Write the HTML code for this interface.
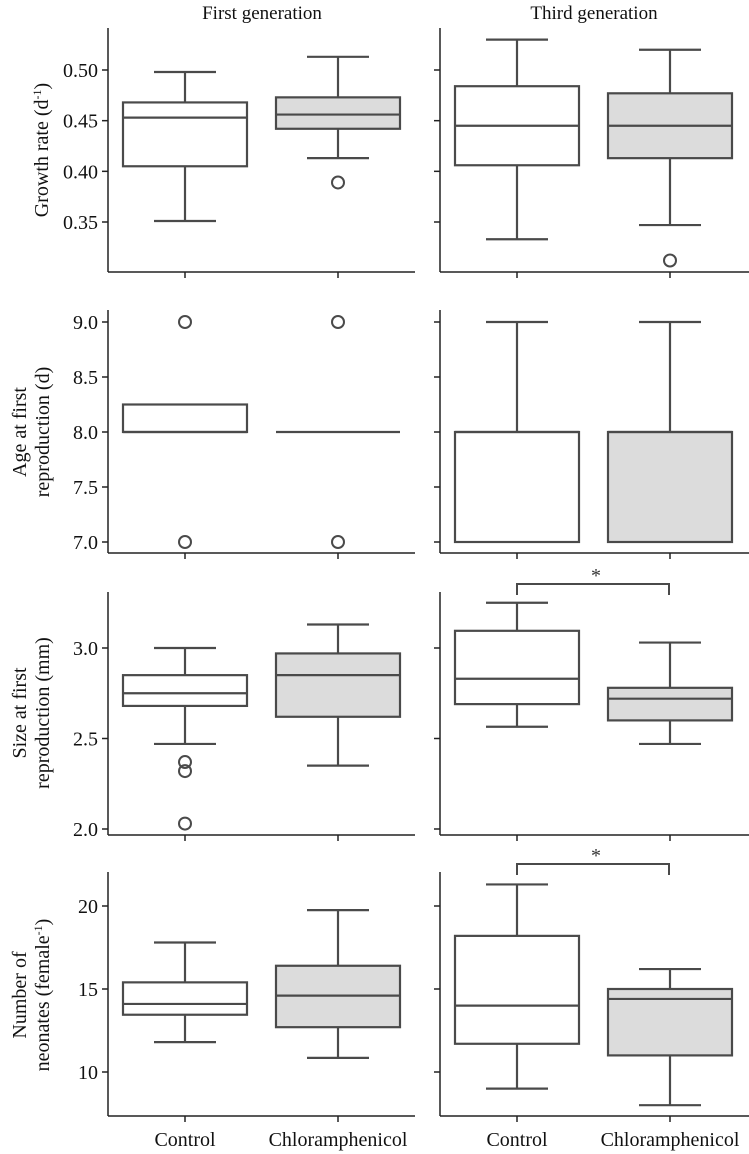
<!DOCTYPE html>
<html><head><meta charset="utf-8">
<style>
html,body{margin:0;padding:0;background:#fff;}
svg{display:block;}
svg text{font-family:"Liberation Serif","DejaVu Serif",serif;}
</style></head>
<body>
<svg id="chart" width="749" height="1154" viewBox="0 0 749 1154" xmlns="http://www.w3.org/2000/svg" font-family="Liberation Serif, DejaVu Serif, serif">
<text x="262" y="19" font-size="19" text-anchor="middle" fill="#111">First generation</text>
<text x="594" y="19" font-size="19" text-anchor="middle" fill="#111">Third generation</text>
<g transform="translate(48,150) rotate(-90)"><text font-size="20" text-anchor="middle" fill="#111">Growth rate (d<tspan font-size="12" dy="-7">-1</tspan><tspan dy="7">)</tspan></text></g>
<g transform="translate(0,432) rotate(-90)"><text font-size="20" text-anchor="middle" fill="#111"><tspan x="0" y="26">Age at first</tspan><tspan x="0" y="49">reproduction (d)</tspan></text></g>
<g transform="translate(0,713) rotate(-90)"><text font-size="20" text-anchor="middle" fill="#111"><tspan x="0" y="26">Size at first</tspan><tspan x="0" y="49">reproduction (mm)</tspan></text></g>
<g transform="translate(0,995) rotate(-90)"><text font-size="20" text-anchor="middle" fill="#111"><tspan x="0" y="26">Number of</tspan><tspan x="0" y="49">neonates (female<tspan font-size="12" dy="-7">-1</tspan><tspan dy="7">)</tspan></tspan></text></g>
<text x="185" y="1146" font-size="20" text-anchor="middle" fill="#111">Control</text>
<text x="338" y="1146" font-size="20" text-anchor="middle" fill="#111">Chloramphenicol</text>
<text x="517" y="1146" font-size="20" text-anchor="middle" fill="#111">Control</text>
<text x="670" y="1146" font-size="20" text-anchor="middle" fill="#111">Chloramphenicol</text>
</svg>
<script>
// Data arrays: [whiskerLow, q1, median, q3, whiskerHigh]
const growthFirst = [[0.351,0.405,0.453,0.468,0.498],[0.413,0.442,0.456,0.473,0.513]];
const growthFirstOut = [[],[0.389]];
const growthThird = [[0.333,0.406,0.445,0.484,0.530],[0.347,0.413,0.445,0.477,0.520]];
const growthThirdOut = [[],[0.312]];
const ageFirst = [[8.0,8.0,8.0,8.25,8.25],[8.0,8.0,8.0,8.0,8.0]];
const ageFirstOut = [[9,7],[9,7]];
const ageThird = [[7,7,8,8,9],[7,7,8,8,9]];
const ageThirdOut = [[],[]];
const sizeFirst = [[2.47,2.68,2.75,2.85,3.0],[2.35,2.62,2.85,2.97,3.13]];
const sizeFirstOut = [[2.37,2.32,2.03],[]];
const sizeThird = [[2.565,2.69,2.83,3.095,3.25],[2.47,2.60,2.72,2.78,3.03]];
const sizeThirdOut = [[],[]];
const neoFirst = [[11.8,13.45,14.1,15.4,17.8],[10.85,12.7,14.6,16.4,19.75]];
const neoFirstOut = [[],[]];
const neoThird = [[9.0,11.7,14.0,18.2,21.3],[8.0,11.0,14.4,15.0,16.2]];
const neoThirdOut = [[],[]];
const growthTicks = [0.35,0.40,0.45,0.50];
const growthTickLabels = ["0.35","0.40","0.45","0.50"];
const ageTicks = [7.0,7.5,8.0,8.5,9.0];
const ageTickLabels = ["7.0","7.5","8.0","8.5","9.0"];
const sizeTicks = [2.0,2.5,3.0];
const sizeTickLabels = ["2.0","2.5","3.0"];
const neoTicks = [10,15,20];
const neoTickLabels = ["10","15","20"];

const NS="http://www.w3.org/2000/svg";
const svg=document.getElementById('chart');
const C="#4a4a4a";
const FF="Liberation Serif, DejaVu Serif, serif";
function mk(tag,attrs,parent){const e=document.createElementNS(NS,tag);for(const k in attrs)e.setAttribute(k,attrs[k]);(parent||svg).appendChild(e);return e;}

const rows=[
 {name:'growth',a:0.35,pa:222,b:0.50,pa2:70,top:28,bot:272,ticks:growthTicks,labels:growthTickLabels,data:[growthFirst,growthThird],out:[growthFirstOut,growthThirdOut]},
 {name:'age',a:7.0,pa:542,b:9.0,pa2:322,top:310,bot:553,ticks:ageTicks,labels:ageTickLabels,data:[ageFirst,ageThird],out:[ageFirstOut,ageThirdOut]},
 {name:'size',a:2.0,pa:829,b:3.0,pa2:648,top:592,bot:835,ticks:sizeTicks,labels:sizeTickLabels,data:[sizeFirst,sizeThird],out:[sizeFirstOut,sizeThirdOut]},
 {name:'neonates',a:10,pa:1072,b:20,pa2:906,top:872,bot:1116,ticks:neoTicks,labels:neoTickLabels,data:[neoFirst,neoThird],out:[neoFirstOut,neoThirdOut]}
];
const cols=[{name:'first',ax:108,right:415,cx:[185,338]},{name:'third',ax:440,right:749,cx:[517,670]}];
const fills=['#ffffff','#dcdcdc'];
const hw=62, cap=31;

rows.forEach((r,ri)=>{
 const y=v=>r.pa+(v-r.a)*(r.pa2-r.pa)/(r.b-r.a);
 cols.forEach((c,ci)=>{
  const g=mk('g',{});
  
  
  const ya=mk('line',{x1:c.ax,y1:r.top,x2:c.ax,y2:r.bot,stroke:'#222','stroke-width':1.5},g);
  
  
  const xa=mk('line',{x1:c.ax,y1:r.bot,x2:c.right,y2:r.bot,stroke:'#222','stroke-width':1.5},g);
  
  
  r.ticks.forEach((t,ti)=>{
   const tk=mk('line',{x1:c.ax-6,y1:y(t),x2:c.ax,y2:y(t),stroke:'#222','stroke-width':1.5},g);
   
   
   if(ci===0){
    const tl=mk('text',{x:c.ax-10,y:y(t)+7,'font-size':20,'font-family':FF,'text-anchor':'end',fill:'#111'},g);
    
    
    tl.textContent=r.labels[ti];
   }
  });
  c.cx.forEach((x,k)=>{
   const xt=mk('line',{x1:x,y1:r.bot,x2:x,y2:r.bot+6,stroke:'#222','stroke-width':1.5},g);
   
   
   const d=r.data[ci][k];
   const b=mk('g',{},g);
   
   
   const sw=2.2;
   if(d[0]<d[1]){mk('line',{x1:x,y1:y(d[0]),x2:x,y2:y(d[1]),stroke:C,'stroke-width':sw},b);mk('line',{x1:x-cap,y1:y(d[0]),x2:x+cap,y2:y(d[0]),stroke:C,'stroke-width':sw},b);}
   if(d[4]>d[3]){mk('line',{x1:x,y1:y(d[3]),x2:x,y2:y(d[4]),stroke:C,'stroke-width':sw},b);mk('line',{x1:x-cap,y1:y(d[4]),x2:x+cap,y2:y(d[4]),stroke:C,'stroke-width':sw},b);}
   if(d[3]>d[1]) mk('rect',{x:x-hw,y:y(d[3]),width:2*hw,height:y(d[1])-y(d[3]),fill:fills[k],stroke:C,'stroke-width':sw},b);
   mk('line',{x1:x-hw,y1:y(d[2]),x2:x+hw,y2:y(d[2]),stroke:C,'stroke-width':sw},b);
   r.out[ci][k].forEach(o=>{
    const oc=mk('circle',{cx:x,cy:y(o),r:6,fill:'none',stroke:C,'stroke-width':2},b);
    
    
   });
  });
 });
});

[[584,572],[864,852]].forEach(([by,sy],i)=>{
 const g=mk('g',{});
 
 
 mk('polyline',{points:`517,${by+11} 517,${by} 669,${by} 669,${by+11}`,fill:'none',stroke:C,'stroke-width':2},g);
 const s=mk('text',{x:596,y:sy+10,'font-size':20,'font-family':FF,'text-anchor':'middle',fill:'#333'},g);
 s.textContent='*';
});
</script>
</body></html>
